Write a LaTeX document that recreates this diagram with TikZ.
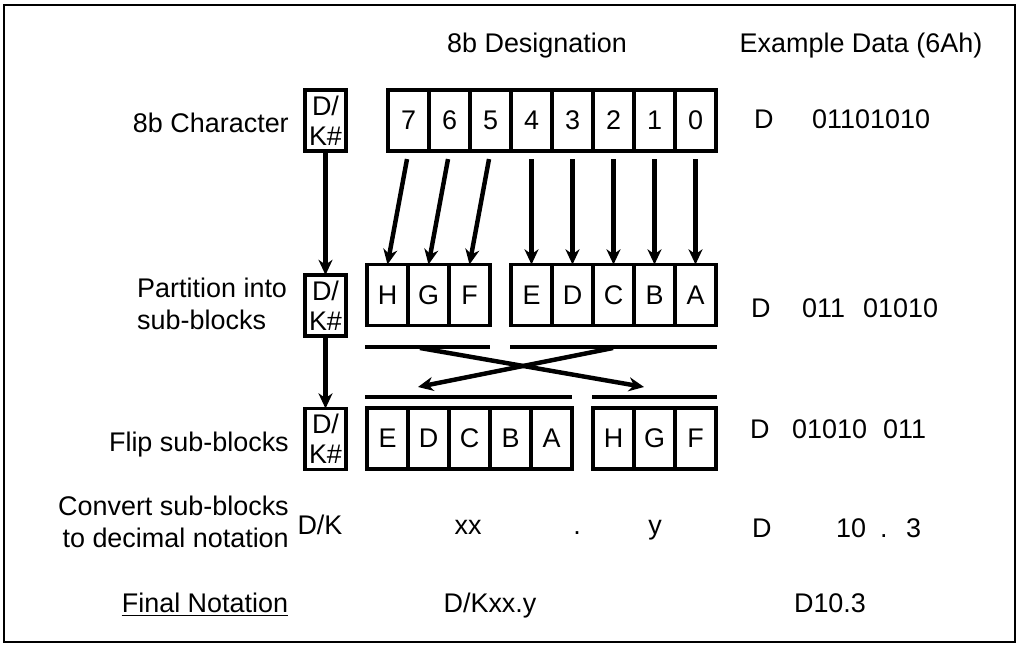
\documentclass[tikz,border=0pt]{standalone}
\usepackage{fontspec}
\setmainfont{Liberation Sans}
\usetikzlibrary{arrows.meta, positioning}

\begin{document}
\begin{tikzpicture}[
    x=0.03cm, y=-0.03cm,
    every node/.style={font=\fontsize{23}{27.3}\selectfont, inner sep=0pt},
    cell/.style={draw, line width=3.4pt, minimum width=1.23cm, minimum height=1.83cm, outer sep=0pt},
    flagbox/.style={draw, line width=3.4pt, minimum width=1.23cm, minimum height=1.83cm, align=center, outer sep=0pt, font=\fontsize{23}{25.6}\selectfont},
    bar/.style={line width=3.6pt},
    bitline/.style={-{Stealth[length=13pt, width=12pt]}, line width=3.8pt},
    txt/.style={anchor=base west}
  ]
    \useasboundingbox (0,0) rectangle (1024,650);
    \draw[line width=1.2pt] (4,5) rectangle (1015,642);

    \node[anchor=base] (hdes) at (537,53) {8b Designation};
    \node[anchor=base] (hex) at (861,53) {Example Data (6Ah)};

    \node[anchor=base east] (lchar) at (289,133) {8b Character};
    \node[anchor=base west, align=left] (lpart) at (137,329) {Partition into\\sub-blocks};
    \node[anchor=base east] (lflip) at (289,451) {Flip sub-blocks};
    \node[anchor=base east, align=right] (lconv) at (289,547) {Convert sub-blocks\\to decimal notation};
    \node[anchor=base] (lfinal) at (205,612) {Final Notation};
    \draw[line width=1.6pt] ([yshift=-3pt]lfinal.base west) -- ([yshift=-3pt]lfinal.base east);

    \node[flagbox] (k1) at (325.5,120.5) {D/\\K\#};
    \node[flagbox] (k2) at (325.5,305.5) {D/\\K\#};
    \node[flagbox] (k3) at (325.5,439) {D/\\K\#};

    \foreach \b [count=\i from 0] in {7,...,0}
      \node[cell] (b\b) at ({408.5+41*\i},120.5) {\b};
    \foreach \c [count=\i from 0] in {H,G,F}
      \node[cell] (p\c) at ({387.5+41*\i},295) {\c};
    \foreach \c [count=\i from 0] in {E,D,C,B,A}
      \node[cell] (p\c) at ({531.5+41*\i},295) {\c};
    \foreach \c [count=\i from 0] in {E,D,C,B,A}
      \node[cell] (f\c) at ({387.5+41*\i},438.5) {\c};
    \foreach \c [count=\i from 0] in {H,G,F}
      \node[cell] (f\c) at ({613.5+41*\i},438.5) {\c};

    \foreach \b/\c in {7/H,6/G,5/F,4/E,3/D,2/C,1/B,0/A}
      \draw[bitline, shorten <=7pt] (b\b.south) -- (p\c.north);
    \draw[bitline] (k1.south) -- (k2.north);
    \draw[bitline] (k2.south) -- (k3.north);

    \draw[bar] (365,347) -- (490,347);
    \draw[bar] (510,347) -- (717,347);
    \draw[bar] (365,397) -- (572,397);
    \draw[bar] (592,397) -- (717,397);

    \coordinate (xl) at (420,348);
    \coordinate (xr) at (613,348);
    \coordinate (tl) at (418,387);
    \coordinate (tr) at (644,387);
    \draw[bitline] (xl) -- (tr);
    \draw[bitline] (xr) -- (tl);

    \node[anchor=base] (cdk) at (320,534) {D/K};
    \node[anchor=base] (cxx) at (468,534) {xx};
    \node[anchor=base] (cdot) at (577,534) {.};
    \node[anchor=base] (cy) at (655,534) {y};

    \node[anchor=base] (fdk) at (490,612) {D/Kxx.y};
    \node[anchor=base] (fex) at (830,612) {D10.3};

    \node[txt] (ed1) at (754,129) {D};
    \node[txt] (ev1) at (812,129) {01101010};
    \node[txt] (ed2) at (751,317) {D};
    \node[txt] (ev2a) at (802,317) {011};
    \node[txt] (ev2b) at (863,317) {01010};
    \node[txt] (ed3) at (750,438) {D};
    \node[txt] (ev3a) at (792,438) {01010};
    \node[txt] (ev3b) at (883,438) {011};
    \node[txt] (ed4) at (752,537) {D};
    \node[txt] (ev4a) at (836,537) {10};
    \node[txt] (ev4b) at (880,537) {.};
    \node[txt] (ev4c) at (906,537) {3};
  \end{tikzpicture}
\end{document}
